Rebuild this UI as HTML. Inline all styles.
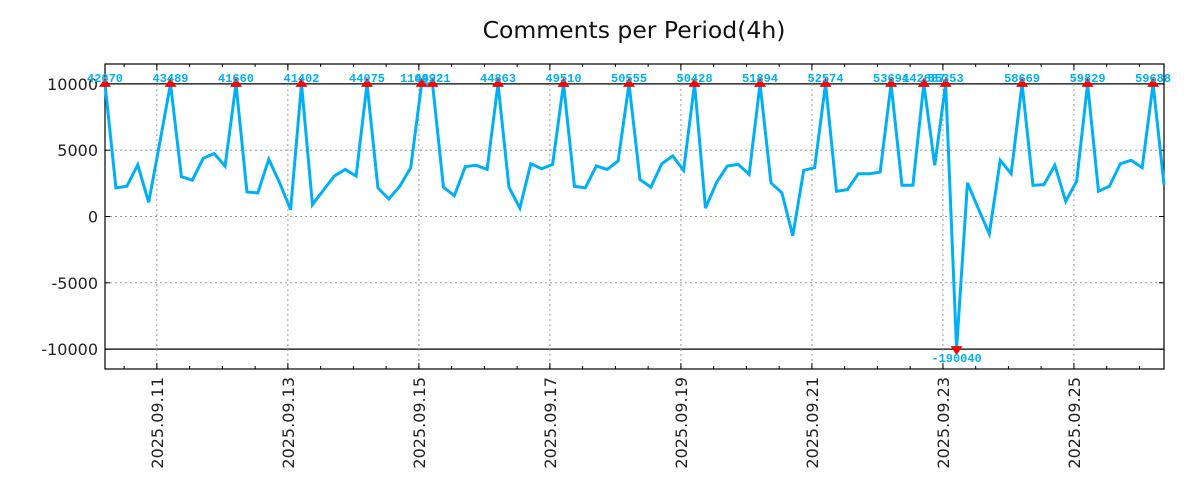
<!DOCTYPE html>
<html><head><meta charset="utf-8"><style>
body{margin:0;background:#fff;width:1200px;height:500px;overflow:hidden}
svg{display:block;font-family:"DejaVu Sans","Liberation Sans",sans-serif}
</style></head><body>
<svg id="chart" width="1200" height="500">
<text x="634" y="38" text-anchor="middle" font-size="23.5" fill="#111">Comments per Period(4h)</text>
<g id="grid"></g>
<g id="axes"></g>
<g id="series"></g>
<g id="marks"></g>
</svg>
<script>
// hours since 2025-09-10 00:00 of first period, step 4h
const startHour = 5;
const stepHours = 4;
const values = [42070,2160,2280,3900,1070,5480,43489,3000,2740,4390,4750,3800,41660,1850,1780,4310,2540,510,41402,890,1980,3050,3550,3050,44075,2160,1320,2280,3680,110992,44221,2210,1570,3760,3860,3550,44863,2210,630,3980,3600,3930,49510,2280,2160,3810,3550,4190,50555,2790,2210,3980,4570,3480,50428,630,2540,3810,3930,3170,51894,2540,1780,-1450,3480,3680,52574,1900,2030,3220,3220,3350,53694,2360,2360,142687,3860,55353,-190040,2540,580,-1310,4240,3230,58669,2350,2400,3860,1140,2670,59829,1900,2280,3980,4240,3680,59688,2410];
const yTicks = [-10000,-5000,0,5000,10000];
const xTickLabels = ["2025.09.11","2025.09.13","2025.09.15","2025.09.17","2025.09.19","2025.09.21","2025.09.23","2025.09.25"];
const xTickHours = [24,72,120,168,216,264,312,360];
const clipLimit = 10000;

const NS="http://www.w3.org/2000/svg";
const L=105,R=1164,T=64,B=369;
const yMin=-11500,yMax=11500;
const hMin=startHour, hMax=startHour+(values.length-1)*stepHours;
const X=h=>L+(h-hMin)/(hMax-hMin)*(R-L);
const Y=v=>B-(v-yMin)/(yMax-yMin)*(B-T);
function mk(tag,attrs,parent){const e=document.createElementNS(NS,tag);for(const k in attrs)e.setAttribute(k,attrs[k]);parent.appendChild(e);return e;}
const grid=document.getElementById('grid'),axes=document.getElementById('axes'),series=document.getElementById('series'),marks=document.getElementById('marks');

yTicks.forEach(v=>{
  const y=Y(v);
  const solid=Math.abs(v)===clipLimit;
  const ln=mk('line',{x1:L,x2:R,y1:y,y2:y,stroke:solid?'#000':'#999','stroke-width':solid?1.2:1,'stroke-dasharray':solid?'none':'2,3'},grid);
  
  
  const t=mk('text',{x:98,y:y+6,'text-anchor':'end','font-size':16,fill:'#222'},axes);
  t.textContent=String(v);
  
  
  mk('line',{x1:L,x2:L+5,y1:y,y2:y,stroke:'#000'},axes);
  mk('line',{x1:R,x2:R-5,y1:y,y2:y,stroke:'#000'},axes);
});
xTickHours.forEach((h,i)=>{
  const x=X(h);
  const ln=mk('line',{x1:x,x2:x,y1:T,y2:B,stroke:'#999','stroke-dasharray':'2,3'},grid);
  
  
  mk('line',{x1:x,x2:x,y1:B,y2:B-6,stroke:'#000'},axes);
  mk('line',{x1:x,x2:x,y1:T,y2:T+6,stroke:'#000'},axes);
  const t=mk('text',{x:0,y:0,'text-anchor':'end','font-size':16,fill:'#222',transform:`translate(${x+6},377) rotate(-90)`},axes);
  t.textContent=xTickLabels[i];
  
  
});
for(let h=12;h<hMax;h+=12){
  if(h<hMin)continue;
  const x=X(h);
  mk('line',{x1:x,x2:x,y1:B,y2:B-3,stroke:'#000'},axes);
  mk('line',{x1:x,x2:x,y1:T,y2:T+3,stroke:'#000'},axes);
}
const frame=mk('rect',{x:L,y:T,width:R-L,height:B-T,fill:'none',stroke:'#000','stroke-width':1.2},axes);



const pts=values.map((v,i)=>[X(startHour+i*stepHours),Y(Math.max(-clipLimit,Math.min(clipLimit,v)))]);
const path=mk('polyline',{points:pts.map(p=>p.join(',')).join(' '),fill:'none',stroke:'#00b0f6','stroke-width':3,'stroke-linejoin':'miter'},series);



values.forEach((v,i)=>{
  if(Math.abs(v)<=clipLimit)return;
  const [x,y]=pts[i];
  const up=v>0;
  const tri=mk('polygon',{points:up?`${x-6},${y+3} ${x+6},${y+3} ${x},${y-6}`:`${x-6},${y-3} ${x+6},${y-3} ${x},${y+6}`,fill:'#f00'},marks);
  
  
  const t=mk('text',{x:x,y:up?y-2:y+13,'text-anchor':'middle','font-size':12,'font-weight':'bold','font-family':'"Liberation Mono","DejaVu Sans Mono",monospace',fill:'#00b0f6'},marks);
  t.textContent=String(v);
  
  
});
</script>
</body></html>
